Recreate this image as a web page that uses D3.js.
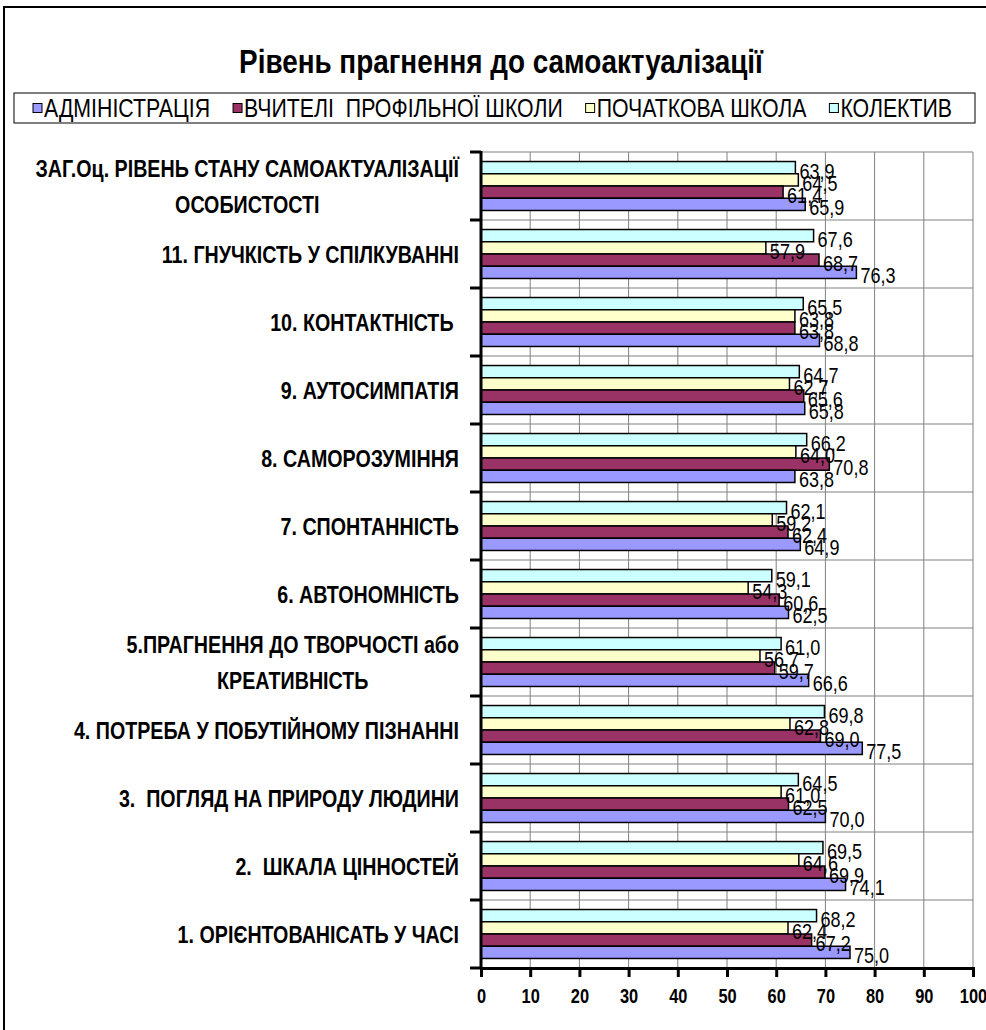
<!DOCTYPE html>
<html>
<head>
<meta charset="utf-8">
<script src="https://cdn.jsdelivr.net/npm/d3@7"></script>
<style>
  html, body { margin: 0; padding: 0; background: #fff; }
  svg { display: block; }
  text { font-family: "Liberation Sans", Arial, sans-serif; white-space: pre; }
</style>
</head>
<body>
<svg id="chart" width="986" height="1030"></svg>
<script>
// Categories in display order, top to bottom ("\n" marks a line break)
const categories = [
  "ЗАГ.Оц. РІВЕНЬ СТАНУ САМОАКТУАЛІЗАЦІЇ\nОСОБИСТОСТІ",
  "11. ГНУЧКІСТЬ У СПІЛКУВАННІ",
  "10. КОНТАКТНІСТЬ ",
  "9. АУТОСИМПАТІЯ",
  "8. САМОРОЗУМІННЯ",
  "7. СПОНТАННІСТЬ",
  "6. АВТОНОМНІСТЬ",
  "5.ПРАГНЕННЯ ДО ТВОРЧОСТІ або\nКРЕАТИВНІСТЬ",
  "4. ПОТРЕБА У ПОБУТІЙНОМУ ПІЗНАННІ",
  "3.  ПОГЛЯД НА ПРИРОДУ ЛЮДИНИ",
  "2.  ШКАЛА ЦІННОСТЕЙ",
  "1. ОРІЄНТОВАНІСАТЬ У ЧАСІ"
];
const seriesNames = ["АДМІНІСТРАЦІЯ", "ВЧИТЕЛІ  ПРОФІЛЬНОЇ ШКОЛИ", "ПОЧАТКОВА ШКОЛА", "КОЛЕКТИВ"];
const administration = [65.9, 76.3, 68.8, 65.8, 63.8, 64.9, 62.5, 66.6, 77.5, 70.0, 74.1, 75.0];
const teachers       = [61.4, 68.7, 63.8, 65.6, 70.8, 62.4, 60.6, 59.7, 69.0, 62.5, 69.9, 67.2];
const primarySchool  = [64.5, 57.9, 63.8, 62.7, 64.0, 59.2, 54.3, 56.7, 62.8, 61.0, 64.6, 62.4];
const collective     = [63.9, 67.6, 65.5, 64.7, 66.2, 62.1, 59.1, 61.0, 69.8, 64.5, 69.5, 68.2];
const xTicks = [0, 10, 20, 30, 40, 50, 60, 70, 80, 90, 100];
const colors = ["#9999FF", "#993366", "#FFFFCC", "#CCFFFF"];
const title = "Рівень прагнення до самоактуалізації";

const seriesValues = [administration, teachers, primarySchool, collective];
const barOrder = [3, 2, 1, 0]; // top to bottom inside a group
const K = 0.82; // horizontal condensation (narrow face look)

const svg = d3.select("#chart");
const plot = { left: 481, right: 973, top: 152, bottom: 968 };

function narrow(parent, x, y, str, size, weight, anchor) {
  const g = parent.append("g").attr("transform", `translate(${x},${y}) scale(${K},1)`);
  const t = g.append("text").attr("x", 0).attr("y", 0).attr("dy", "0.36em")
    .attr("font-size", size).attr("font-weight", weight || "normal")
    .attr("text-anchor", anchor || "start").text(str);
  return t;
}

// outer frame
svg.append("rect").attr("x", 4).attr("y", 7).attr("width", 1000).attr("height", 1040)
  .attr("fill", "none").attr("stroke", "#000").attr("stroke-width", 2);

// title
narrow(svg, 501, 61, title, 34, "bold", "middle");

// legend: entries laid out one after another with equal gaps
const legendBox = { x: 14, y: 93, w: 961, h: 30 };
svg.append("rect").attr("x", legendBox.x).attr("y", legendBox.y)
  .attr("width", legendBox.w).attr("height", legendBox.h)
  .attr("fill", "#fff").attr("stroke", "#000").attr("stroke-width", 1);
const legendTexts = seriesNames.map(name => narrow(svg, 0, 108, name, 26, "normal", "start"));
const legendW = legendTexts.map(t => t.node().getComputedTextLength() * K);
const sqW = 11, leftPad = 19;
const gap = (legendBox.w - leftPad - d3.sum(legendW) - sqW * seriesNames.length) / seriesNames.length;
let lx = legendBox.x + leftPad;
seriesNames.forEach((name, i) => {
  svg.append("rect").attr("x", lx).attr("y", 103.5).attr("width", 9).attr("height", 9)
    .attr("fill", colors[i]).attr("stroke", "#000").attr("stroke-width", 1);
  d3.select(legendTexts[i].node().parentNode)
    .attr("transform", `translate(${lx + sqW},108) scale(${K},1)`);
  lx += sqW + legendW[i] + gap;
});

// scales
const x = d3.scaleLinear().domain([0, 100]).range([plot.left, plot.right]);
const y = d3.scaleBand().domain(categories).range([plot.top, plot.bottom])
  .paddingInner(0.28).paddingOuter(0.14);
const yInner = d3.scaleBand().domain(barOrder).range([0, y.bandwidth()]);

// gridlines
const grid = svg.append("g");
grid.selectAll("line.v").data(xTicks.slice(1)).join("line")
  .attr("x1", d => x(d)).attr("x2", d => x(d))
  .attr("y1", plot.top).attr("y2", plot.bottom)
  .attr("stroke", "#808080").attr("stroke-width", 1);
const step = y.step();
const boundaries = d3.range(categories.length).map(i => plot.top + i * step);
grid.selectAll("line.h").data(boundaries).join("line")
  .attr("x1", plot.left).attr("x2", plot.right)
  .attr("y1", d => d).attr("y2", d => d)
  .attr("stroke", "#808080").attr("stroke-width", 1);

// bars
const groups = svg.append("g").selectAll("g").data(categories).join("g")
  .attr("transform", d => `translate(0,${y(d)})`);
groups.selectAll("rect").data((d, ci) => barOrder.map(si => ({ si, v: seriesValues[si][ci] })))
  .join("rect")
  .attr("x", plot.left)
  .attr("y", d => yInner(d.si))
  .attr("width", d => x(d.v) - plot.left)
  .attr("height", yInner.bandwidth())
  .attr("fill", d => colors[d.si])
  .attr("stroke", "#000").attr("stroke-width", 1.5);

// data labels
const fmt = v => v.toFixed(1).replace(".", ",");
groups.each(function (c, ci) {
  const g = d3.select(this);
  barOrder.forEach(si => {
    const v = seriesValues[si][ci];
    narrow(g, x(v) + 4, yInner(si) + yInner.bandwidth() / 2 + 3, fmt(v), 22, "normal", "start");
  });
});

// x axis
const xAxis = d3.axisBottom(x).tickValues(xTicks).tickSize(9).tickFormat(d3.format("d"));
const gx = svg.append("g").attr("transform", `translate(0,${plot.bottom})`).call(xAxis);
gx.select(".domain").attr("stroke", "#000").attr("stroke-width", 3);
gx.selectAll(".tick line").attr("stroke", "#000").attr("stroke-width", 3);
gx.selectAll(".tick text").attr("font-size", 20).attr("font-weight", "bold")
  .attr("fill", "#000").attr("y", 21).attr("transform", `scale(${K},1)`)
  .style("font-family", '"Liberation Sans", Arial, sans-serif');

// y axis line and ticks at category boundaries
const ya = svg.append("g");
ya.append("line").attr("x1", plot.left).attr("x2", plot.left)
  .attr("y1", plot.top - 1).attr("y2", plot.bottom + 1)
  .attr("stroke", "#000").attr("stroke-width", 3);
ya.selectAll("line.t").data(boundaries.concat([plot.bottom])).join("line")
  .attr("x1", plot.left - 11).attr("x2", plot.left)
  .attr("y1", d => d).attr("y2", d => d)
  .attr("stroke", "#000").attr("stroke-width", 3);

// category labels
const labelRight = 459;
const lineH = 36;
categories.forEach(c => {
  const lines = c.split("\n");
  const cy = y(c) + y.bandwidth() / 2;
  if (lines.length === 1) {
    narrow(svg, labelRight, cy, c, 24, "bold", "end");
  } else {
    const ts = lines.map((ln, i) =>
      narrow(svg, 0, cy + (i - (lines.length - 1) / 2) * lineH, ln, 24, "bold", "middle"));
    const maxW = d3.max(ts, t => t.node().getComputedTextLength()) * K;
    ts.forEach((t, i) => {
      d3.select(t.node().parentNode).attr("transform",
        `translate(${labelRight - maxW / 2},${cy + (i - (lines.length - 1) / 2) * lineH}) scale(${K},1)`);
    });
  }
});
</script>
</body>
</html>
